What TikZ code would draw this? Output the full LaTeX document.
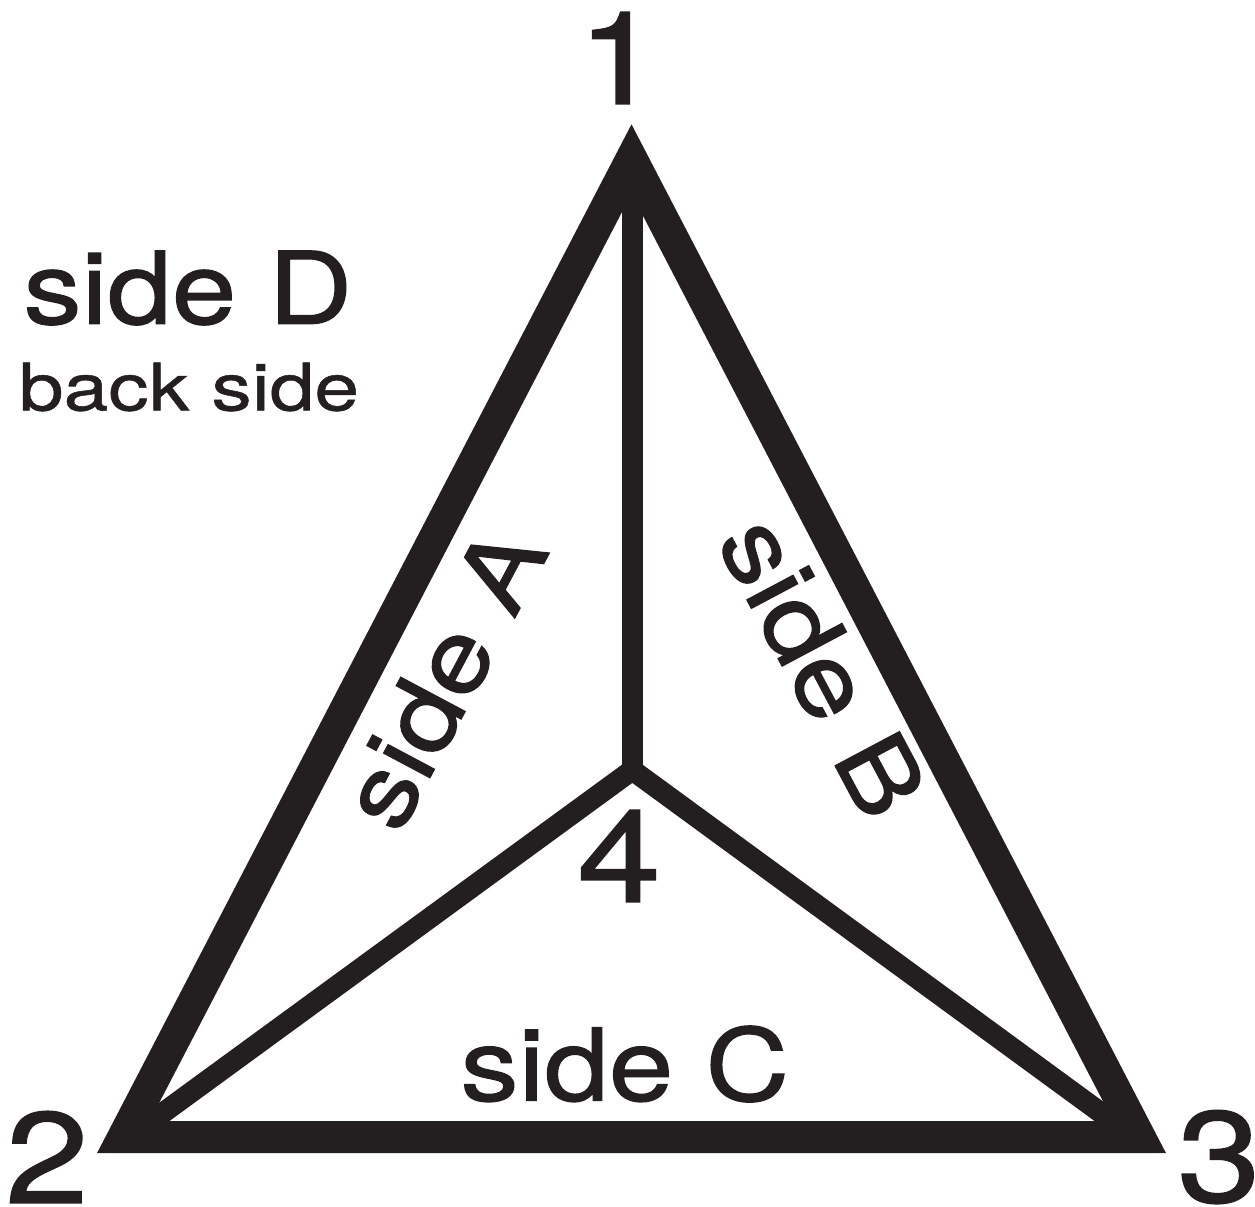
\documentclass[tikz,border=0pt]{standalone}
\usepackage{fontspec}
\setmainfont{TeX Gyre Heros}[FakeStretch=1.16,FakeBold=1.2]
\newfontfamily\smallface{TeX Gyre Heros}[FakeStretch=1.23,FakeBold=0.8]
\definecolor{ink}{HTML}{231F20}
\tikzset{
  outer/.style={draw=ink,line width=7.68pt,miter limit=20,line join=miter},
  inner/.style={draw=ink,line width=5pt,line join=miter},
  lab/.style={text=ink,inner sep=0pt,anchor=center},
  digit/.style={lab,font=\fontsize{31pt}{31pt}\selectfont},
  sidelab/.style={lab,font=\fontsize{24pt}{24pt}\selectfont},
}
\begin{document}
\begin{tikzpicture}[x=0.24pt,y=-0.24pt]
\useasboundingbox (0,0) rectangle (1255,1206);
\coordinate (v1) at (631.5,159);
\coordinate (v2) at (123.4,1137);
\coordinate (v3) at (1139.6,1137);
\coordinate (v4) at (632.3,770);
\coordinate (c1) at (632.3,180);
\coordinate (c2) at (134,1134);
\coordinate (c3) at (1130,1134);
\draw[inner] (c1) -- (v4);
\draw[inner] (c2) -- (v4) -- (c3);
\draw[outer] (v1) -- (v2) -- (v3) -- cycle;
\node[digit] (n1) at (619,58) {1};
\node[digit] (n2) at (47,1157) {2};
\node[digit] (n3) at (1219,1157) {3};
\node[digit] (n4) at (619,856) {4};
\node[sidelab] (d) at (188,288) {side D};
\node[lab,font=\smallface\fontsize{15.7pt}{15.7pt}\selectfont] (ds) at (189,387) {back side};
\node[sidelab,rotate=62] (a) at (443,677) {side A};
\node[sidelab,rotate=-62] (b) at (823,667) {side B};
\node[sidelab] (c) at (625,1064) {side C};
\end{tikzpicture}
\end{document}
